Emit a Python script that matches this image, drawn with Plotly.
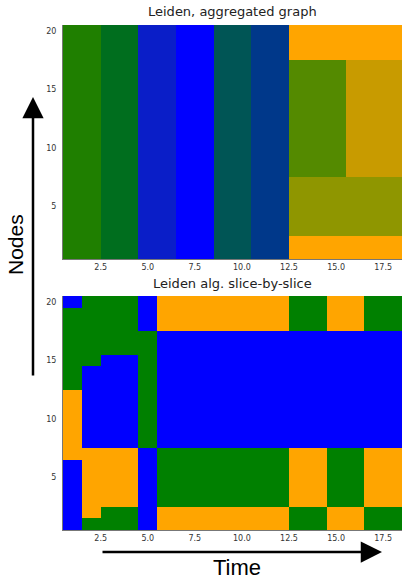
import plotly.graph_objects as go

# ---- data ----
times = list(range(1, 19))          # time slices
nodes = list(range(1, 21))          # node ids

# Aggregated-graph community colour per time slice (string = nodes 1..20)
agg_columns = [
    "aaaaaaaaaaaaaaaaaaaa", "aaaaaaaaaaaaaaaaaaaa",
    "bbbbbbbbbbbbbbbbbbbb", "bbbbbbbbbbbbbbbbbbbb",
    "cccccccccccccccccccc", "cccccccccccccccccccc",
    "dddddddddddddddddddd", "dddddddddddddddddddd",
    "eeeeeeeeeeeeeeeeeeee", "eeeeeeeeeeeeeeeeeeee",
    "ffffffffffffffffffff", "ffffffffffffffffffff",
    "OOyyyyyggggggggggOOO", "OOyyyyyggggggggggOOO", "OOyyyyyggggggggggOOO",
    "OOyyyyykkkkkkkkkkOOO", "OOyyyyykkkkkkkkkkOOO", "OOyyyyykkkkkkkkkkOOO",
]

# Slice-by-slice Leiden community per time slice (string = nodes 1..20)
slice_columns = [
    "BBBBBBOOOOOOGGGGGGGB",
    "GOOOOOOBBBBBBBGGGGGG",
    "GGOOOOOBBBBBBBBGGGGG",
    "GGOOOOOBBBBBBBBGGGGG",
    "BBBBBBBGGGGGGGGGGBBB",
    "OOGGGGGBBBBBBBBBBOOO",
    "OOGGGGGBBBBBBBBBBOOO",
    "OOGGGGGBBBBBBBBBBOOO",
    "OOGGGGGBBBBBBBBBBOOO",
    "OOGGGGGBBBBBBBBBBOOO",
    "OOGGGGGBBBBBBBBBBOOO",
    "OOGGGGGBBBBBBBBBBOOO",
    "GGOOOOOBBBBBBBBBBGGG",
    "GGOOOOOBBBBBBBBBBGGG",
    "OOGGGGGBBBBBBBBBBOOO",
    "OOGGGGGBBBBBBBBBBOOO",
    "GGOOOOOBBBBBBBBBBGGG",
    "GGOOOOOBBBBBBBBBBGGG",
]

palette = {
    "a": "#1f7f00", "b": "#006e1e", "c": "#0a1ec8", "d": "#0000ff",
    "e": "#005555", "f": "#00388a", "g": "#548a00", "k": "#c89b00",
    "y": "#8f9600", "O": "#ffa500", "G": "#008000", "B": "#0000ff",
}

x_ticks = [2.5, 5.0, 7.5, 10.0, 12.5, 15.0, 17.5]
y_ticks = [5, 10, 15, 20]


def heat(columns, xa, ya):
    keys = sorted({ch for col in columns for ch in col})
    idx = {k: i for i, k in enumerate(keys)}
    n = len(keys)
    cs = []
    for i, k in enumerate(keys):
        cs.append([i / n, palette[k]])
        cs.append([(i + 1) / n, palette[k]])
    z = [[idx[columns[t][r]] for t in range(len(times))] for r in range(len(nodes))]
    return go.Heatmap(x=times, y=nodes, z=z, colorscale=cs, zmin=-0.5, zmax=n - 0.5,
                      showscale=False, xaxis=xa, yaxis=ya, hoverinfo="skip")


W, H = 402, 579
fig = go.Figure()
fig.add_trace(heat(agg_columns, "x", "y"))
fig.add_trace(heat(slice_columns, "x2", "y2"))

x0 = 63 / W
tick_font = dict(family="DejaVu Sans", size=8, color="#333333")
ax_common = dict(showgrid=False, zeroline=False, showline=True, linecolor="#777777",
                 linewidth=1, ticks="", tickfont=tick_font, mirror=False)

fig.update_layout(
    width=W, height=H, margin=dict(l=0, r=0, t=0, b=0),
    paper_bgcolor="white", plot_bgcolor="white", showlegend=False,
    xaxis=dict(domain=[x0, 1.0], range=[0.5, 18.5], tickvals=x_ticks,
               ticktext=[f"{v:.1f}" for v in x_ticks], anchor="y", **ax_common),
    yaxis=dict(domain=[1 - 259 / H, 1 - 25 / H], range=[0.5, 20.5], tickvals=y_ticks,
               anchor="x", ticklabelstandoff=4, **ax_common),
    xaxis2=dict(domain=[x0, 1.0], range=[0.5, 18.5], tickvals=x_ticks,
                ticktext=[f"{v:.1f}" for v in x_ticks], anchor="y2", **ax_common),
    yaxis2=dict(domain=[1 - 530 / H, 1 - 296 / H], range=[0.5, 20.5], tickvals=y_ticks,
                anchor="x2", ticklabelstandoff=4, **ax_common),
)

title_font = dict(family="DejaVu Sans", size=13, color="#222222")
annotations = [
    dict(text="Leiden, aggregated graph", x=(63 + 402) / 2 / W, y=1 - 12 / H,
         xref="paper", yref="paper", showarrow=False, font=title_font,
         xanchor="center", yanchor="middle"),
    dict(text="Leiden alg. slice-by-slice", x=(63 + 402) / 2 / W, y=1 - 283 / H,
         xref="paper", yref="paper", showarrow=False, font=title_font,
         xanchor="center", yanchor="middle"),
    dict(text="Nodes", x=15 / W, y=1 - 245 / H, xref="paper", yref="paper",
         showarrow=False, textangle=-90,
         font=dict(family="Liberation Sans", size=21, color="black"),
         xanchor="center", yanchor="middle"),
    dict(text="Time", x=237 / W, y=1 - 567 / H, xref="paper", yref="paper",
         showarrow=False, font=dict(family="Liberation Sans", size=22, color="black"),
         xanchor="center", yanchor="middle"),
    # vertical arrow
    dict(text="", x=33 / W, y=1 - 97 / H, xref="paper", yref="paper",
         ax=0, ay=280, axref="pixel", ayref="pixel", showarrow=True,
         arrowhead=2, arrowsize=1.7, arrowwidth=2.5, arrowcolor="black"),
    # horizontal arrow
    dict(text="", x=382 / W, y=1 - 552 / H, xref="paper", yref="paper",
         ax=-281, ay=0, axref="pixel", ayref="pixel", showarrow=True,
         arrowhead=2, arrowsize=1.7, arrowwidth=2.5, arrowcolor="black"),
]
fig.update_layout(annotations=annotations)

fig.write_html("out.html")
